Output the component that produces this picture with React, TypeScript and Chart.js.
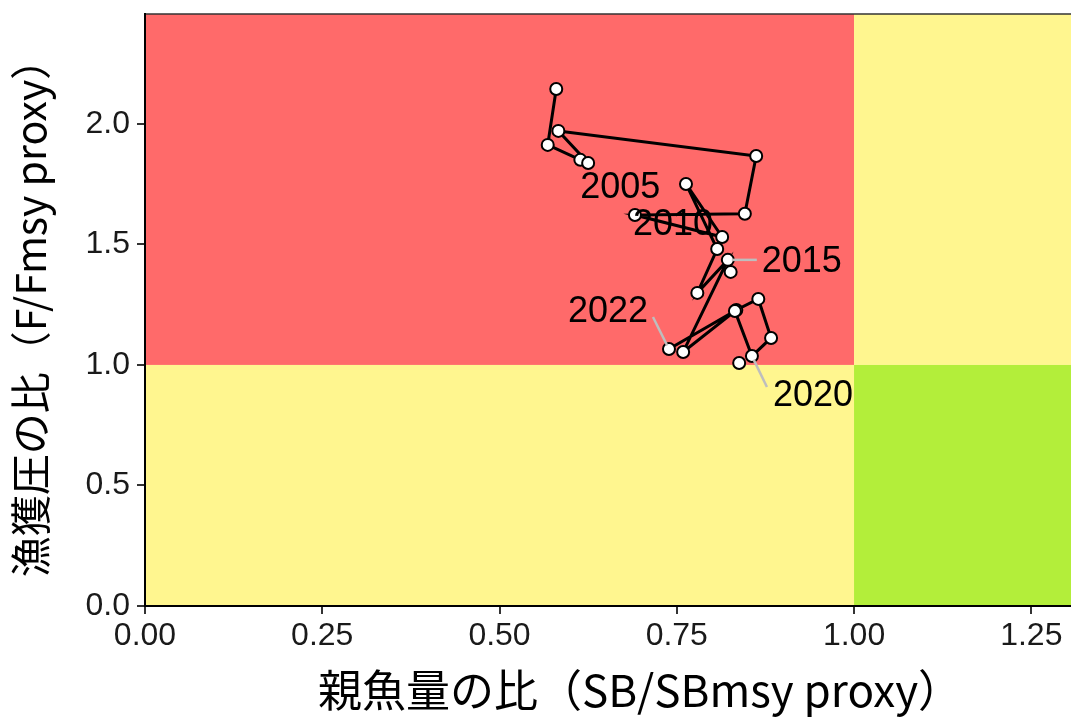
import React, { useEffect, useRef } from "react";
import { Chart, registerables } from "chart.js";

Chart.register(...registerables);

// ---- data ----
const years = [2003, 2004, 2005, 2006, 2007, 2008, 2009, 2010, 2011, 2012, 2013, 2014, 2015, 2016, 2017, 2018, 2019, 2020, 2021, 2022];
const sbRatio = [0.580, 0.568, 0.614, 0.625, 0.583, 0.862, 0.846, 0.691, 0.814, 0.763, 0.807, 0.779, 0.822, 0.759, 0.834, 0.865, 0.883, 0.856, 0.832, 0.739];
const fRatio = [2.145, 1.913, 1.851, 1.838, 1.971, 1.867, 1.627, 1.622, 1.531, 1.751, 1.481, 1.299, 1.436, 1.054, 1.228, 1.274, 1.112, 1.037, 1.224, 1.066];
const extraSb = [0.826, 0.838];
const extraF = [1.386, 1.008];
const xTicks = [0, 0.25, 0.5, 0.75, 1.0, 1.25];
const yTicks = [0, 0.5, 1.0, 1.5, 2.0];
const sbLimit = 1.0;
const fLimit = 1.0;
const xMax = 1.306;
const yMax = 2.456;
const labelYears = [2005, 2010, 2015, 2020, 2022];
const xTitle = "親魚量の比（SB/SBmsy proxy）";
const yTitle = "漁獲圧の比（F/Fmsy proxy）";

// ---- styles ----
const RED = "#FF6A6A";
const YELLOW = "#FFF68F";
const GREEN = "#B3EE3A";
const labelStyle: Record<number, { dx: number; dy: number; leader?: [number, number] }> = {
  2005: { dx: 40, dy: 28 },
  2010: { dx: 38, dy: 10 },
  2015: { dx: 74, dy: 2, leader: [29, 0] },
  2020: { dx: 61, dy: 40, leader: [15, 31] },
  2022: { dx: -61, dy: -37, leader: [-16, -32] },
};

const zonesPlugin = {
  id: "zones",
  beforeDraw(chart: any) {
    const { ctx, chartArea, scales } = chart;
    const x = scales.x, y = scales.y;
    const px = x.getPixelForValue(sbLimit);
    const py = y.getPixelForValue(fLimit);
    const { left, right, top, bottom } = chartArea;
    ctx.save();
    ctx.fillStyle = RED;
    ctx.fillRect(left, top, px - left, py - top);
    ctx.fillStyle = YELLOW;
    ctx.fillRect(left, py, px - left, bottom - py);
    ctx.fillRect(px, top, right - px, py - top);
    ctx.fillStyle = GREEN;
    ctx.fillRect(px, py, right - px, bottom - py);
    ctx.strokeStyle = "#333333";
    ctx.lineWidth = 1.5;
    ctx.beginPath();
    ctx.moveTo(left, top);
    ctx.lineTo(right, top);
    ctx.stroke();
    ctx.restore();
  },
};

const labelsPlugin = {
  id: "yearLabels",
  afterDatasetsDraw(chart: any) {
    const { ctx, scales } = chart;
    ctx.save();
    ctx.font = '36px "Liberation Sans", Arial, sans-serif';
    ctx.textAlign = "center";
    ctx.textBaseline = "middle";
    labelYears.forEach((yr) => {
      const i = years.indexOf(yr);
      if (i < 0) return;
      const px = scales.x.getPixelForValue(sbRatio[i]);
      const py = scales.y.getPixelForValue(fRatio[i]);
      const st = labelStyle[yr];
      if (st.leader) {
        const sx = px + st.leader[0];
        const sy = py + st.leader[1];
        const d = Math.hypot(sx - px, sy - py);
        const ex = px + ((sx - px) / d) * 4;
        const ey = py + ((sy - py) / d) * 4;
        ctx.strokeStyle = "#BEBEBE";
        ctx.lineWidth = 2.5;
        ctx.beginPath();
        ctx.moveTo(sx, sy);
        ctx.lineTo(ex, ey);
        ctx.stroke();
      }
      ctx.fillStyle = "#000000";
      ctx.fillText(String(yr), px + st.dx, py + st.dy);
    });
    ctx.restore();
  },
};

const titlesPlugin = {
  id: "axisTitles",
  afterDraw(chart: any) {
    const { ctx } = chart;
    ctx.save();
    ctx.fillStyle = "#000000";
    ctx.textAlign = "center";
    ctx.textBaseline = "middle";
    ctx.font = '44px "Noto Sans CJK JP", sans-serif';
    ctx.fillText(xTitle, 640, 690);
    ctx.font = '41px "Noto Sans CJK JP", sans-serif';
    ctx.translate(30, 308);
    ctx.rotate(-Math.PI / 2);
    ctx.fillText(yTitle, 0, 0);
    ctx.restore();
  },
};

export default function App() {
  const ref = useRef<HTMLCanvasElement | null>(null);
  useEffect(() => {
    if (!ref.current) return;
    const pathData = years.map((_, i) => ({ x: sbRatio[i], y: fRatio[i] }));
    const extraData = extraSb.map((v, i) => ({ x: v, y: extraF[i] }));
    const tickFont = { family: '"Liberation Sans", Arial, sans-serif', size: 32 };
    const chart = new Chart(ref.current, {
      type: "scatter",
      data: {
        datasets: [
          {
            data: pathData,
            showLine: true,
            borderColor: "#000000",
            borderWidth: 3,
            pointBackgroundColor: "#FFFFFF",
            pointBorderColor: "#000000",
            pointBorderWidth: 2,
            pointRadius: 6,
            tension: 0,
          },
          {
            data: extraData,
            showLine: false,
            pointBackgroundColor: "#FFFFFF",
            pointBorderColor: "#000000",
            pointBorderWidth: 2,
            pointRadius: 6,
          },
        ],
      },
      options: {
        animation: false,
        responsive: false,
        devicePixelRatio: 1,
        layout: { autoPadding: false, padding: { top: 14, left: 0, right: 0, bottom: 0 } },
        plugins: { legend: { display: false }, tooltip: { enabled: false } },
        scales: {
          x: {
            type: "linear",
            min: 0,
            max: xMax,
            afterBuildTicks: (s: any) => { s.ticks = xTicks.map((v) => ({ value: v })); },
            afterFit: (s: any) => {
              s.height = 112;
              s.paddingLeft = 0; s.paddingRight = 0; s.paddingTop = 0; s.paddingBottom = 0;
            },
            ticks: {
              font: tickFont,
              color: "#1A1A1A",
              padding: 3,
              maxRotation: 0,
              autoSkip: false,
              callback: (v: any) => Number(v).toFixed(2),
            },
            grid: { drawOnChartArea: false, drawTicks: true, tickLength: 8, color: "#333333", lineWidth: 2 },
            border: { display: true, color: "#000000", width: 2 },
          },
          y: {
            type: "linear",
            min: 0,
            max: yMax,
            afterBuildTicks: (s: any) => { s.ticks = yTicks.map((v) => ({ value: v })); },
            afterFit: (s: any) => {
              s.width = 145;
              s.paddingLeft = 0; s.paddingRight = 0; s.paddingTop = 0; s.paddingBottom = 0;
            },
            ticks: {
              font: tickFont,
              color: "#1A1A1A",
              padding: 7,
              autoSkip: false,
              callback: (v: any) => Number(v).toFixed(1),
            },
            grid: { drawOnChartArea: false, drawTicks: true, tickLength: 8, color: "#333333", lineWidth: 2 },
            border: { display: true, color: "#000000", width: 2 },
          },
        },
      },
      plugins: [zonesPlugin, labelsPlugin, titlesPlugin],
    });
    return () => chart.destroy();
  }, []);
  return (
    <div style={{ position: "absolute", left: 0, top: 0, width: 1071, height: 718 }}>
      <canvas ref={ref} width={1071} height={718} style={{ display: "block" }} />
    </div>
  );
}
